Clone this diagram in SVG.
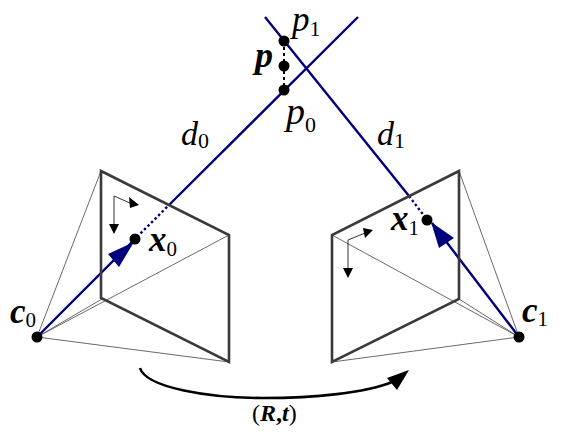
<svg xmlns="http://www.w3.org/2000/svg" width="563" height="434" viewBox="0 0 563 434">
<style>
.t{font-family:"Liberation Serif","Times New Roman",serif;font-style:italic;fill:#000}
.b{font-weight:bold}
.s{font-style:normal;font-weight:normal}
.plane{fill:none;stroke:#3a3a3a;stroke-width:2.6;stroke-linejoin:miter}
.thin{fill:none;stroke:#6a6a6a;stroke-width:1}
.ray{fill:none;stroke:#00007f;stroke-width:2.4}
.dot{fill:none;stroke:#00007f;stroke-width:2.4;stroke-dasharray:2.5 2.5}
.ax{fill:none;stroke:#333;stroke-width:1}
.pt{fill:#000}
</style>
<g id="connectors">
<g id="frustum0">
<path class="thin" d="M37 337L101 171M37 337L229 235M37 337L102 299M37 337L229 362"/>
</g>
<g id="frustum1">
<path class="thin" d="M519 337L459 171M519 337L332 235M519 337L459 299M519 337L332 362"/>
</g>
<path class="ray" d="M37 337L135 239M169 205L358 17"/>
<path class="dot" d="M137 237L169 205"/>
<path fill="#00007f" d="M134 242L108 254L119 267Z"/>
<path class="ray" d="M519 337L432 223M409 196L265 17"/>
<path class="dot" d="M409 196L425 217"/>
<path fill="#00007f" d="M431 222L454 238L439 248Z"/>
<path d="M284 41V90" fill="none" stroke="#000" stroke-width="2" stroke-dasharray="3 3"/>
<path d="M140 368C146 388 210 398 263 398C315 398 365 393 392 382" fill="none" stroke="#000" stroke-width="2.6"/>
<path d="M409 370L387 378L397 390Z" fill="#000"/>
</g>
<g id="plane0">
<path class="plane" d="M101 171L229 235V362L101 298Z"/>
<path class="ax" d="M130 203L114 196V226"/>
<path d="M139 205L129 197L130 208Z M114 234L109 224H119Z"/>
</g>
<g id="plane1">
<path class="plane" d="M459 171L332 235V362L459 299Z"/>
<path class="ax" d="M365 233L348 240V270"/>
<path d="M373 230L363 228L365 238Z M348 278L343 268H353Z"/>
</g>
<g id="node-p1"><circle class="pt" cx="284" cy="41" r="5.5"/><text class="t" x="292" y="31" font-size="35">p<tspan class="s" font-size="22" dy="5">1</tspan></text></g>
<g id="node-p"><circle class="pt" cx="284" cy="66" r="5.5"/><text class="t b" x="255" y="67" font-size="36">p</text></g>
<g id="node-p0"><circle class="pt" cx="284" cy="90" r="5.5"/><text class="t" x="286" y="124" font-size="38">p<tspan class="s" font-size="22" dy="8">0</tspan></text></g>
<g id="label-d0"><text class="t" x="181" y="145" font-size="34">d<tspan class="s" font-size="22" dy="3">0</tspan></text></g>
<g id="label-d1"><text class="t" x="377" y="145" font-size="34">d<tspan class="s" font-size="22" dy="3">1</tspan></text></g>
<g id="node-x0"><circle class="pt" cx="135" cy="239" r="5.5"/><text class="t b" x="149" y="251" font-size="35">x<tspan class="s" font-size="21" dy="5">0</tspan></text></g>
<g id="node-x1"><circle class="pt" cx="427" cy="220" r="5.5"/><text class="t b" x="391" y="230" font-size="35">x<tspan class="s" font-size="21" dy="5">1</tspan></text></g>
<g id="node-c0"><circle class="pt" cx="37" cy="337" r="5.5"/><text class="t b" x="10" y="323" font-size="35">c<tspan class="s" font-size="21" dy="4">0</tspan></text></g>
<g id="node-c1"><circle class="pt" cx="519" cy="337" r="5.5"/><text class="t b" x="522" y="322" font-size="35">c<tspan class="s" font-size="21" dy="4">1</tspan></text></g>
<g id="label-rt"><text x="252" y="421" font-size="24" font-family="Liberation Serif, serif" font-weight="bold"><tspan font-weight="normal">(</tspan><tspan font-style="italic">R</tspan>,<tspan font-style="italic">t</tspan><tspan font-weight="normal">)</tspan></text></g>
</svg>
